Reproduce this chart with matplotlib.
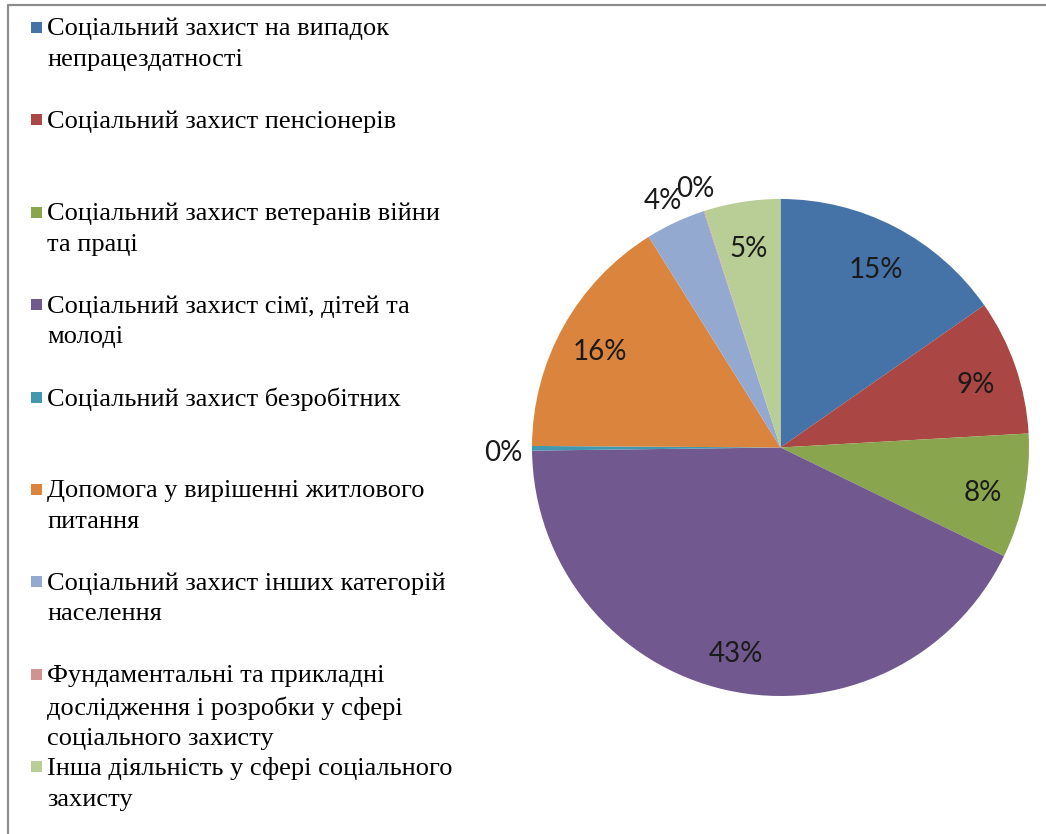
import numpy as np
import matplotlib
matplotlib.use("Agg")
import matplotlib.pyplot as plt
from matplotlib.lines import Line2D
from matplotlib.patches import Rectangle

categories = [
    "Соціальний захист на випадок\nнепрацездатності",
    "Соціальний захист пенсіонерів",
    "Соціальний захист ветеранів війни\nта праці",
    "Соціальний захист сімї, дітей та\nмолоді",
    "Соціальний захист безробітних",
    "Допомога у вирішенні житлового\nпитання",
    "Соціальний захист інших категорій\nнаселення",
    "Фундаментальні та прикладні\nдослідження і розробки у сфері\nсоціального захисту",
    "Інша діяльність у сфері соціального\nзахисту",
]
shares = [15.3, 8.8, 8.1, 42.6, 0.3, 16.0, 3.9, 0.05, 4.95]
colors = ["#4572A7", "#AA4643", "#89A54E", "#71588F", "#4198AF",
          "#DB843D", "#93A9CF", "#D19392", "#B9CD96"]


def main():
    W, H = 1046, 834
    fig = plt.figure(figsize=(W / 100, H / 100), dpi=100)

    # pie area in pixels: centre (780.5, 447.5), radius 248.5
    ax = fig.add_axes([532 / W, (H - 696) / H, 497 / W, 497 / H])
    wedges, _ = ax.pie(shares, colors=colors, startangle=90, counterclock=False,
                       radius=1.0, wedgeprops=dict(linewidth=0))
    ax.set_xlim(-1, 1)
    ax.set_ylim(-1, 1)
    ax.set_aspect("equal")
    ax.axis("off")

    total = sum(shares)
    dy = 5 / 248.5
    for w, v in zip(wedges, shares):
        pct = v / total * 100
        mid = np.deg2rad((w.theta1 + w.theta2) / 2)
        r = 0.83 if pct >= 4.5 else 1.115
        ax.text(r * np.cos(mid), r * np.sin(mid) - dy, f"{pct:.0f}%",
                ha="center", va="center", fontsize=20, family="Lato",
                color="#1a1a1a", clip_on=False)

    # legend drawn as a column of entries on the left
    step = 92.4
    for i, (lab, c) in enumerate(zip(categories, colors)):
        ytop = 18 + i * step
        fig.add_artist(Rectangle((31 / W, 1 - (ytop + 15) / H), 11 / W, 11 / H,
                                 transform=fig.transFigure, color=c, lw=0))
        fig.text(47 / W, 1 - ytop / H, lab, ha="left", va="top",
                 fontsize=19, family="Liberation Serif", color="black",
                 linespacing=1.5)

    # frame of the chart area (cropped on right and bottom)
    fig.add_artist(Line2D([8 / W, 8 / W, 1.0], [0.0, 1 - 5 / H, 1 - 5 / H],
                          transform=fig.transFigure, color="#8c8c8c", lw=1.6))

    fig.savefig("out.png", dpi=100)


if __name__ == "__main__":
    main()
